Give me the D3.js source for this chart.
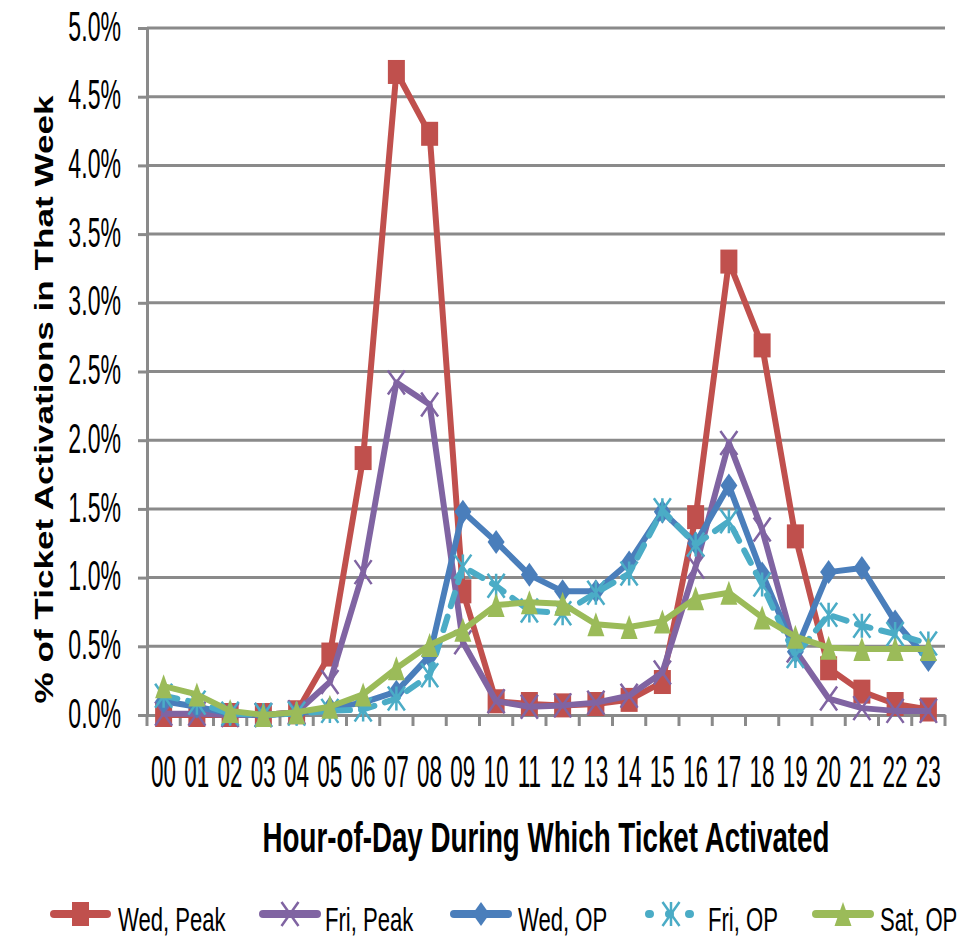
<!DOCTYPE html>
<html>
<head>
<meta charset="utf-8">
<script src="https://cdn.jsdelivr.net/npm/d3@7"></script>
<style>
  html, body { margin: 0; padding: 0; background: #fff; }
  svg { display: block; }
  text { font-family: "Liberation Sans", Arial, sans-serif; }
</style>
</head>
<body>
<svg id="chart" width="969" height="938"></svg>
<script>
// Share of the week's ticket activations by hour of day
const hours = ["00","01","02","03","04","05","06","07","08","09","10","11",
               "12","13","14","15","16","17","18","19","20","21","22","23"];

const wedPeak = [0.00,0.00,0.00,0.00,0.02,0.44,1.87,4.68,4.23,0.90,0.10,0.08,
                 0.07,0.08,0.11,0.24,1.44,3.30,2.69,1.30,0.34,0.17,0.08,0.04];
const friPeak = [0.01,0.01,0.00,0.00,0.02,0.24,1.04,2.42,2.26,0.53,0.10,0.06,
                 0.07,0.09,0.14,0.31,1.08,1.98,1.35,0.47,0.12,0.05,0.03,0.03];
const wedOP   = [0.10,0.06,0.01,0.00,0.01,0.05,0.09,0.17,0.43,1.48,1.26,1.02,
                 0.90,0.90,1.11,1.48,1.25,1.67,1.03,0.46,1.04,1.07,0.68,0.40];
const friOP   = [0.14,0.09,0.01,0.00,0.01,0.03,0.04,0.12,0.29,1.08,0.94,0.76,
                 0.74,0.89,1.03,1.49,1.24,1.41,0.95,0.43,0.73,0.65,0.59,0.52];
const satOP   = [0.21,0.15,0.03,0.00,0.02,0.06,0.15,0.34,0.51,0.62,0.80,0.82,
                 0.81,0.66,0.64,0.68,0.85,0.89,0.71,0.57,0.49,0.48,0.48,0.48];

const yTicks = [0,0.5,1.0,1.5,2.0,2.5,3.0,3.5,4.0,4.5,5.0];

const seriesNames  = ["Wed, Peak","Fri, Peak","Wed, OP","Fri, OP","Sat, OP"];
const seriesValues = [wedPeak, friPeak, wedOP, friOP, satOP];
const seriesColors = ["#c0504d","#8064a2","#4a7ebb","#4bacc6","#9bbb59"];
const seriesMarks  = ["square","cross","diamond","star","triangle"];
const seriesDash   = [null, null, null, "14,11", null];

const svg = d3.select("#chart");
const plot = { left: 147, right: 945, top: 28, bottom: 715 };

const x = d3.scaleBand().domain(hours).range([plot.left, plot.right]);
const y = d3.scaleLinear().domain([0, 5]).range([plot.bottom, plot.top]);
const cx = h => x(h) + x.bandwidth() / 2;

const gridColor = "#8a8a8a";

// narrow the glyphs of a text horizontally, keeping its anchor point in place
function condense(sel, f) {
  sel.each(function () {
    const t = d3.select(this);
    const tx = +(t.attr("x") || 0), ty = +(t.attr("y") || 0);
    t.attr("x", 0).attr("y", 0)
     .attr("transform", `translate(${tx},${ty}) scale(${f},1)`);
  });
}
// narrow a text so that it spans a given width
function fitWidth(sel, width) {
  sel.each(function () {
    const w = this.getComputedTextLength();
    d3.select(this).call(condense, width / w);
  });
}

// horizontal gridlines
svg.append("g")
  .selectAll("line")
  .data(yTicks.filter(t => t > 0))
  .join("line")
  .attr("x1", plot.left).attr("x2", plot.right)
  .attr("y1", d => y(d)).attr("y2", d => y(d))
  .attr("stroke", gridColor).attr("stroke-width", 3);

// y axis
const yAxis = svg.append("g")
  .attr("transform", `translate(${plot.left},0)`)
  .call(d3.axisLeft(y).tickValues(yTicks).tickSize(9).tickPadding(17)
        .tickFormat(d => d.toFixed(1) + "%"));
yAxis.select(".domain").attr("stroke", gridColor).attr("stroke-width", 3);
yAxis.selectAll(".tick line").attr("stroke", gridColor).attr("stroke-width", 3);
yAxis.selectAll(".tick text")
  .attr("font-family", "Liberation Sans, Arial, sans-serif")
  .attr("font-size", 42).attr("dy", "0.29em").attr("fill", "#000")
  .call(condense, 0.55);

// x axis with ticks between categories
const xAxis = svg.append("g")
  .attr("transform", `translate(0,${plot.bottom})`)
  .call(d3.axisBottom(x).tickSize(0).tickPadding(40));
xAxis.select(".domain").attr("stroke", gridColor).attr("stroke-width", 3);
xAxis.selectAll(".tick text")
  .attr("font-family", "Liberation Sans, Arial, sans-serif")
  .attr("font-size", 45).attr("fill", "#000")
  .call(condense, 0.5);
xAxis.append("g").selectAll("line")
  .data(d3.range(hours.length + 1))
  .join("line")
  .attr("x1", i => i < hours.length ? x(hours[i]) : plot.right)
  .attr("x2", i => i < hours.length ? x(hours[i]) : plot.right)
  .attr("y1", 0).attr("y2", 11)
  .attr("stroke", gridColor).attr("stroke-width", 3);

// axis titles
svg.append("text")
  .attr("transform", `translate(53,${(plot.top + plot.bottom) / 2 + 28}) rotate(-90) scale(1,0.7)`)
  .attr("text-anchor", "middle")
  .attr("font-weight", "bold")
  .attr("font-size", 37)
  .attr("textLength", 608).attr("lengthAdjust", "spacingAndGlyphs")
  .text("% of Ticket Activations in That Week");

svg.append("text")
  .attr("x", 546).attr("y", 852)
  .attr("text-anchor", "middle")
  .attr("font-weight", "bold")
  .attr("font-size", 43)
  .text("Hour-of-Day During Which Ticket Activated")
  .call(fitWidth, 567);

// marker drawing (markers are taller than wide)
const MW = 17, MH = 24;
function drawMarker(g, type, color) {
  const w = MW / 2, h = MH / 2;
  if (type === "square") {
    g.append("rect").attr("x", -w).attr("y", -h).attr("width", MW).attr("height", MH)
      .attr("fill", color);
  } else if (type === "diamond") {
    g.append("path").attr("d", `M0,${-h}L${w},0L0,${h}L${-w},0Z`).attr("fill", color);
  } else if (type === "triangle") {
    g.append("path").attr("d", `M0,${-h}L${w},${h}L${-w},${h}Z`).attr("fill", color);
  } else if (type === "cross") {
    g.append("path").attr("d", `M${-w},${-h}L${w},${h}M${w},${-h}L${-w},${h}`)
      .attr("stroke", color).attr("stroke-width", 2.5).attr("fill", "none");
  } else if (type === "star") {
    g.append("path").attr("d",
      `M${-w},${-h}L${w},${h}M${w},${-h}L${-w},${h}M0,${-h}L0,${h}`)
      .attr("stroke", color).attr("stroke-width", 2.5).attr("fill", "none");
  }
}

const line = d3.line().x((d, i) => cx(hours[i])).y(d => y(d));

seriesValues.forEach((vals, k) => {
  const g = svg.append("g");
  g.append("path")
    .datum(vals)
    .attr("d", line)
    .attr("fill", "none")
    .attr("stroke", seriesColors[k])
    .attr("stroke-width", 6)
    .attr("stroke-linejoin", "round")
    .attr("stroke-linecap", "round")
    .attr("stroke-dasharray", seriesDash[k]);
  vals.forEach((v, i) => {
    const m = g.append("g").attr("transform", `translate(${cx(hours[i])},${y(v)})`);
    drawMarker(m, seriesMarks[k], seriesColors[k]);
  });
});

// legend
const legendItems = [
  { x: 50,  x2: 111, tx: 118 },
  { x: 259, x2: 321, tx: 325 },
  { x: 450, x2: 512, tx: 518 },
  { x: 645, x2: 697, tx: 708 },
  { x: 812, x2: 874, tx: 880 }
];
const ly = 914;
legendItems.forEach((p, k) => {
  const g = svg.append("g");
  g.append("line")
    .attr("x1", p.x + 4).attr("x2", p.x2 - 4)
    .attr("y1", ly).attr("y2", ly)
    .attr("stroke", seriesColors[k]).attr("stroke-width", 8)
    .attr("stroke-linecap", "round")
    .attr("stroke-dasharray", seriesDash[k] ? "1,19" : null);
  const m = g.append("g").attr("transform", `translate(${(p.x + p.x2) / 2},${ly})`);
  drawMarker(m, seriesMarks[k], seriesColors[k]);
  g.append("text")
    .attr("x", p.tx).attr("y", 931)
    .attr("font-size", 34)
    .text(seriesNames[k])
    .call(condense, 0.65);
});
</script>
</body>
</html>
